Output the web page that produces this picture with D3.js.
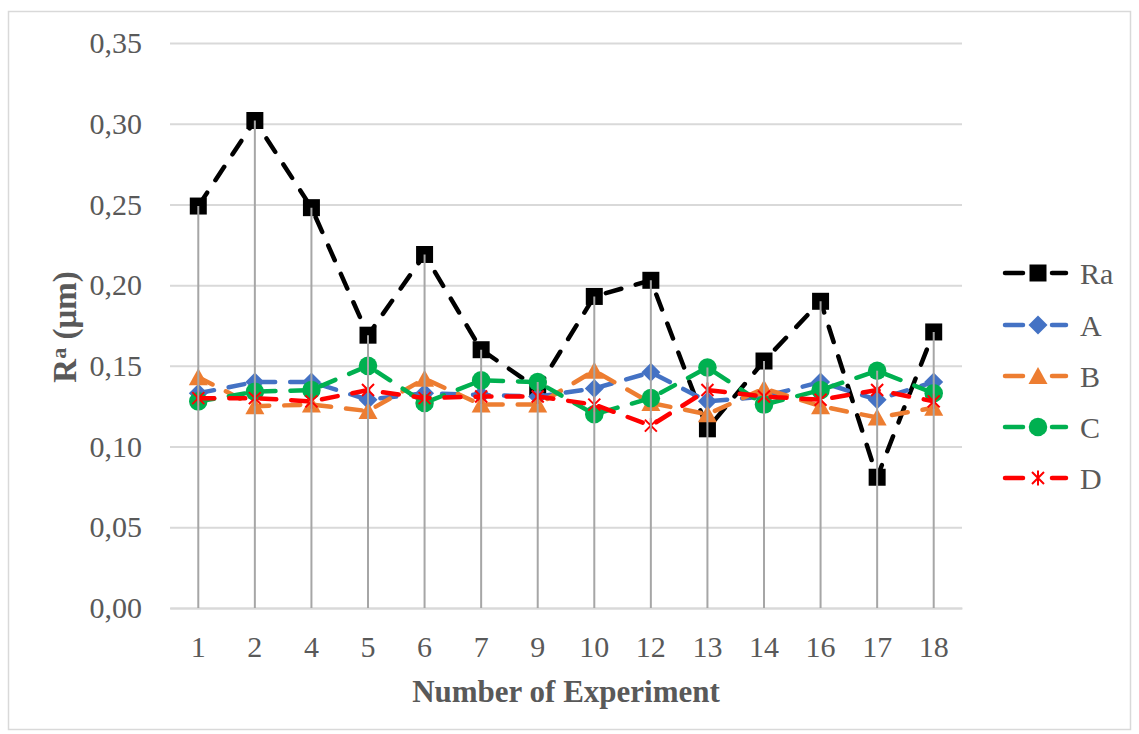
<!DOCTYPE html>
<html><head><meta charset="utf-8">
<script src="https://cdn.jsdelivr.net/npm/d3@7"></script>
<style>
html,body{margin:0;padding:0;background:#fff;}
svg{display:block;font-family:"Liberation Serif","Times New Roman",serif;}
</style></head>
<body>
<svg id="chart" width="1139" height="734"></svg>
<script>
const categories = ["1","2","4","5","6","7","9","10","12","13","14","16","17","18"];
const seriesNames = ["Ra","A","B","C","D"];
const Ra = [0.249,0.302,0.248,0.169,0.219,0.160,0.136,0.193,0.203,0.111,0.153,0.190,0.081,0.171];
const A  = [0.133,0.140,0.140,0.129,0.133,0.132,0.131,0.136,0.146,0.128,0.131,0.140,0.129,0.140];
const B  = [0.143,0.125,0.126,0.122,0.142,0.126,0.126,0.147,0.127,0.120,0.136,0.125,0.118,0.124];
const C  = [0.128,0.134,0.135,0.150,0.127,0.141,0.140,0.120,0.130,0.149,0.126,0.135,0.147,0.133];
const D  = [0.130,0.130,0.128,0.135,0.130,0.131,0.131,0.126,0.113,0.135,0.131,0.129,0.135,0.128];
const yTicks = [0,0.05,0.10,0.15,0.20,0.25,0.30,0.35];
const colors = ["#000000","#4472C4","#ED7D31","#00B050","#FF0000"];
const markers = ["square","diamond","triangle","circle","asterisk"];

const values = [Ra,A,B,C,D];
const svg = d3.select("#chart");
const pLeft = 170, pRight = 962, pTop = 43, pBottom = 608;

svg.append("rect").attr("x",8.5).attr("y",11.5).attr("width",1122).attr("height",718)
  .attr("fill","#fff").attr("stroke","#d9d9d9").attr("stroke-width",1.5);

const x = d3.scaleBand().domain(categories).range([pLeft,pRight]).paddingInner(0).paddingOuter(0);
const y = d3.scaleLinear().domain([0,0.35]).range([pBottom,pTop]);
const fmt = v => d3.format(".2f")(v).replace(".",",");

// gridlines + y labels
const yAxis = d3.axisLeft(y).tickValues(yTicks).tickFormat(fmt).tickSize(-(pRight-pLeft)).tickPadding(28);
const gy = svg.append("g").attr("transform",`translate(${pLeft},0)`).call(yAxis);
gy.select(".domain").remove();
gy.selectAll(".tick line").attr("stroke","#d9d9d9").attr("stroke-width",2);
gy.selectAll(".tick text").attr("fill","#595959").attr("font-size",30)
  .attr("font-family","Liberation Serif, Times New Roman, serif");

// x axis
const xAxis = d3.axisBottom(x).tickSize(0).tickPadding(28);
const gx = svg.append("g").attr("transform",`translate(0,${pBottom})`).call(xAxis);
gx.select(".domain").attr("stroke","#d9d9d9").attr("stroke-width",2);
gx.selectAll(".tick text").attr("fill","#595959").attr("font-size",30)
  .attr("font-family","Liberation Serif, Times New Roman, serif");

const cx = c => x(c) + x.bandwidth()/2;

function markerPath(type){
  switch(type){
    case "square": return "M-8.5,-8.5H8.5V8.5H-8.5Z";
    case "diamond": return "M0,-9.5L9.5,0L0,9.5L-9.5,0Z";
    case "triangle": return "M0,-9L9.5,8L-9.5,8Z";
    case "circle": return d3.symbol(d3.symbolCircle, 270)();
    case "asterisk": return "M-6,-6L6,6M-6,6L6,-6M0,-7.5L0,7.5";
  }
}
function drawMarker(g, type, color){
  const p = g.append("path").attr("d", markerPath(type));
  if(type==="asterisk") p.attr("fill","none").attr("stroke",color).attr("stroke-width",2);
  else p.attr("fill",color).attr("stroke","none");
}

const line = d3.line().x((d,i)=>cx(categories[i])).y(d=>y(d));

values.forEach((vals,si)=>{
  const g = svg.append("g");
  g.append("path").attr("d", line(vals)).attr("fill","none").attr("stroke",colors[si])
    .attr("stroke-width",4.5).attr("stroke-dasharray","16,15").attr("stroke-linecap","round");
  vals.forEach((v,i)=>{
    const mg = g.append("g").attr("transform",`translate(${cx(categories[i])},${y(v)})`);
    drawMarker(mg, markers[si], colors[si]);
  });
});

// drop lines
categories.forEach((c,i)=>{
  const mx = d3.max(values, s=>s[i]);
  svg.append("line").attr("x1",cx(c)).attr("x2",cx(c)).attr("y1",y(mx)).attr("y2",y(0))
    .attr("stroke","#a6a6a6").attr("stroke-width",2);
});

// axis titles
svg.append("text").attr("x",(pLeft+pRight)/2).attr("y",702).attr("text-anchor","middle")
  .attr("font-size",31).attr("font-weight","bold").attr("fill","#595959").text("Number of Experiment");

const yl = svg.append("text").attr("transform","translate(76,327) rotate(-90)")
  .attr("text-anchor","middle").attr("font-size",33).attr("font-weight","bold").attr("fill","#595959");
yl.append("tspan").text("R");
yl.append("tspan").attr("font-size",22).attr("dy",-10).text("a");
yl.append("tspan").attr("dy",10).text(" (\u03bcm)");

// legend
const legY = [273,325,376,427,478];
seriesNames.forEach((n,si)=>{
  const g = svg.append("g");
  [[1005,1023],[1052,1066]].forEach(([a,b])=>{
    g.append("line").attr("x1",a).attr("x2",b).attr("y1",legY[si]).attr("y2",legY[si])
      .attr("stroke",colors[si]).attr("stroke-width",4.5).attr("stroke-linecap","round");
  });
  const mg = g.append("g").attr("transform",`translate(1038,${legY[si]})`);
  drawMarker(mg, markers[si], colors[si]);
  g.append("text").attr("x",1080).attr("y",legY[si]).attr("dy","0.35em")
    .attr("font-size",30).attr("fill","#595959").text(n);
});
</script>
</body></html>
